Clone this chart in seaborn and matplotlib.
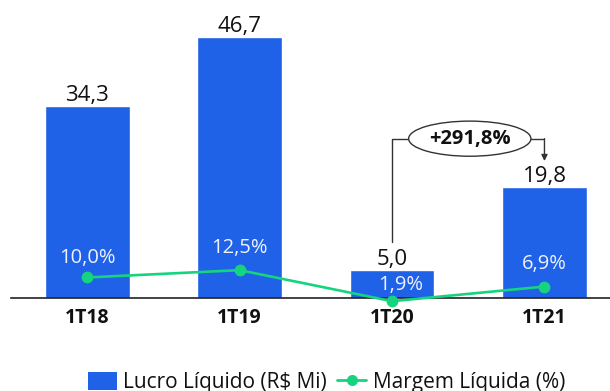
import matplotlib
matplotlib.use("Agg")
import matplotlib.pyplot as plt
import seaborn as sns
import pandas as pd
from matplotlib.lines import Line2D
from matplotlib.patches import Patch

# Quarterly net income and net margin
periods = ["1T18", "1T19", "1T20", "1T21"]
lucro = [34.3, 46.7, 5.0, 19.8]          # R$ Mi
margem = [10.0, 12.5, 1.9, 6.9]          # %
variacao = "+291,8%"

BLUE = "#1F62E8"
GREEN = "#16D47E"

sns.set_theme(style="white")
plt.rcParams["font.family"] = ["Open Sans", "DejaVu Sans"]

df = pd.DataFrame({"periodo": periods, "lucro": lucro, "margem": margem})

fig = plt.figure(figsize=(6.10, 3.91), dpi=100)
ax = fig.add_axes([0.018, 0.2379, 0.982, 0.7148])

sns.barplot(data=df, x="periodo", y="lucro", color=BLUE, saturation=1,
            width=0.557, ax=ax)
ax.set_xlim(-0.5, 3.43)
ax.set_ylim(0, 50)

labels = [f"{v:.1f}".replace(".", ",") for v in lucro]
ax.bar_label(ax.containers[0], labels=labels, padding=0, fontsize=16,
             color="#111111")

for s in ["top", "left", "right"]:
    ax.spines[s].set_visible(False)
ax.spines["bottom"].set_color("#222222")
ax.spines["bottom"].set_linewidth(1.2)
ax.set_yticks([])
ax.set_xlabel("")
ax.set_ylabel("")
ax.tick_params(axis="x", length=0, pad=7)
for t in ax.get_xticklabels():
    t.set_fontsize(14)
    t.set_fontweight("bold")
    t.set_color("#111111")

# Net margin line on a secondary scale
ax2 = ax.twinx()
sns.lineplot(x=list(range(len(periods))), y=margem, ax=ax2, color=GREEN,
             linewidth=1.9, marker="o", markersize=8.5,
             markeredgewidth=0, clip_on=False)
ax2.set_ylim(3.0, 98.4)
ax2.set_yticks([])
ax2.set_ylabel("")
for s in ax2.spines.values():
    s.set_visible(False)

offsets = [(0, 14), (0, 16), (6, 12), (0, 16)]
for i, (m, off) in enumerate(zip(margem, offsets)):
    ax2.annotate(f"{m:.1f}".replace(".", ",") + "%", (i, m),
                 xytext=off, textcoords="offset points",
                 ha="center", va="center", fontsize=14.5, color="#EEF2FF",
                 annotation_clip=False)

# Growth bracket from 1T20 to 1T21
y_br = 28.5
ax.plot([2, 2, 2.12], [10.0, y_br, y_br], color="#333333", lw=1.0,
        clip_on=False)
ax.plot([2.9, 3.0], [y_br, y_br], color="#333333", lw=1.0, clip_on=False)
ax.annotate("", xy=(3.0, 24.5), xytext=(3.0, y_br),
            arrowprops=dict(arrowstyle="-|>", color="#333333", lw=1.0,
                            mutation_scale=9, shrinkA=0, shrinkB=0))
ax.text(2.51, y_br, variacao, ha="center", va="center", fontsize=14.5,
        fontweight="bold", color="#111111",
        bbox=dict(boxstyle="ellipse,pad=0.12", fc="white", ec="#333333",
                  lw=1.0))

handles = [Patch(facecolor=BLUE, edgecolor="none"),
           Line2D([], [], color=GREEN, lw=2, marker="o", markersize=8,
                  markeredgewidth=0)]
fig.legend(handles, ["Lucro Líquido (R$ Mi)", "Margem Líquida (%)"],
           loc="center", bbox_to_anchor=(0.535, 0.022), ncol=2,
           frameon=False, fontsize=15, handlelength=1.4, handleheight=1.0,
           handletextpad=0.3, columnspacing=0.5, labelcolor="#111111")

fig.savefig("out.png", dpi=100)
